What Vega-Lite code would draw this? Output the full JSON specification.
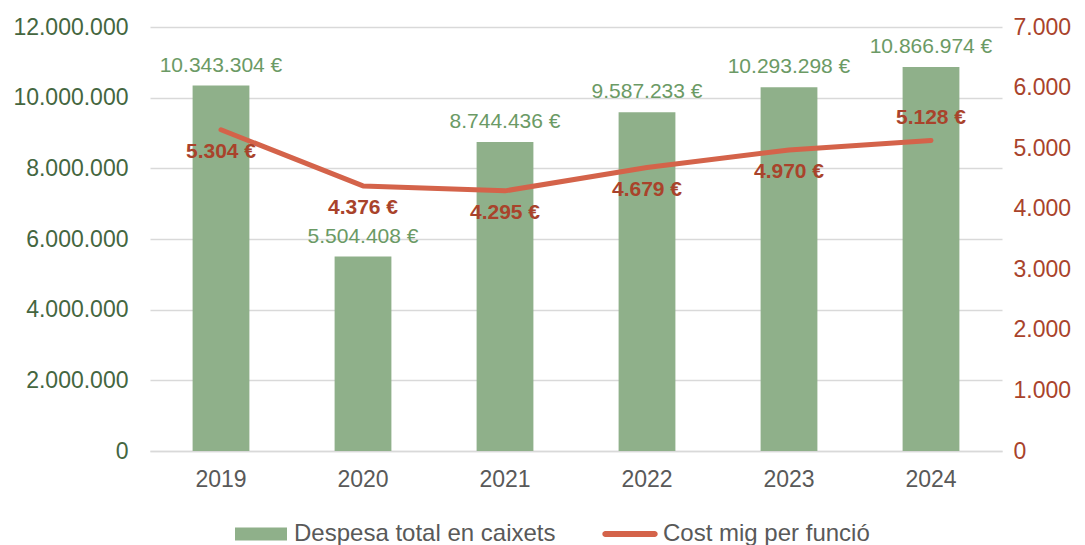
{
  "$schema": "https://vega.github.io/schema/vega-lite/v6.json",
  "width": 852,
  "height": 424,
  "autosize": {"type": "none"},
  "padding": {"left": 150, "top": 27, "right": 83, "bottom": 94},
  "config": {
    "locale": {"number": {"decimal": ",", "thousands": ".", "grouping": [3], "currency": ["", " €"]}},
    "font": "Liberation Sans",
    "view": {"stroke": null}
  },
  "data": {
    "values": [
      {"year": "2019", "despesa": 10343304, "cost": 5304},
      {"year": "2020", "despesa": 5504408, "cost": 4376},
      {"year": "2021", "despesa": 8744436, "cost": 4295},
      {"year": "2022", "despesa": 9587233, "cost": 4679},
      {"year": "2023", "despesa": 10293298, "cost": 4970},
      {"year": "2024", "despesa": 10866974, "cost": 5128}
    ]
  },
  "encoding": {
    "x": {
      "field": "year",
      "type": "nominal",
      "scale": {"paddingInner": 0.6, "paddingOuter": 0.3},
      "axis": {
        "title": null,
        "labelAngle": 0,
        "labelFontSize": 23,
        "labelColor": "#595959",
        "ticks": false,
        "domainColor": "#D9D9D9",
        "domainWidth": 1.5,
        "labelPadding": 17
      }
    }
  },
  "layer": [
    {
      "layer": [
        {
          "mark": {"type": "bar", "color": "#8FB08A"},
          "encoding": {
            "y": {
              "field": "despesa",
              "type": "quantitative",
              "scale": {"domain": [0, 12000000]},
              "axis": {
                "orient": "left",
                "title": null,
                "values": [0, 2000000, 4000000, 6000000, 8000000, 10000000, 12000000],
                "format": ",d",
                "labelFontSize": 23,
                "labelColor": "#44663F",
                "ticks": false,
                "domain": false,
                "grid": true,
                "gridColor": "#D9D9D9",
                "gridWidth": 1.5,
                "labelPadding": 22
              }
            },
            "color": {
              "datum": "Despesa total en caixets",
              "type": "nominal",
              "scale": {"domain": ["Despesa total en caixets", "Cost mig per funció"], "range": ["#8FB08A", "#D4634A"]},
              "legend": {
                "orient": "none",
                "legendX": 85,
                "legendY": 481,
                "direction": "horizontal",
                "title": null,
                "labelFontSize": 24,
                "labelLimit": 400,
                "labelColor": "#595959",
                "labelOffset": 7,
                "symbolSize": 2704,
                "columnPadding": 46,
                "encode": {
                  "symbols": {
                    "update": {
                      "shape": {"signal": "datum.value === 'Cost mig per funció' ? 'M-0.95,-0.115L0.95,-0.115A0.115,0.115,0,0,1,0.95,0.115L-0.95,0.115A0.115,0.115,0,0,1,-0.95,-0.115Z' : 'M-1,-0.25L1,-0.25L1,0.25L-1,0.25Z'"},
                      "fill": {"signal": "datum.value === 'Cost mig per funció' ? '#D4634A' : '#8FB08A'"},
                      "strokeWidth": {"value": 0},
                      "opacity": {"value": 1}
                    }
                  }
                }
              }
            }
          }
        },
        {
          "mark": {"type": "text", "fontSize": 21, "color": "#6B9A65", "baseline": "middle", "dy": -20},
          "encoding": {
            "y": {"field": "despesa", "type": "quantitative"},
            "text": {"field": "despesa", "type": "quantitative", "format": "$,d"}
          }
        }
      ]
    },
    {
      "layer": [
        {
          "mark": {"type": "line", "strokeWidth": 5, "strokeCap": "round", "strokeJoin": "round"},
          "encoding": {
            "y": {
              "field": "cost",
              "type": "quantitative",
              "scale": {"domain": [0, 7000]},
              "axis": {
                "orient": "right",
                "title": null,
                "values": [0, 1000, 2000, 3000, 4000, 5000, 6000, 7000],
                "format": ",d",
                "labelFontSize": 23,
                "labelColor": "#A9432B",
                "ticks": false,
                "domain": false,
                "grid": false,
                "labelPadding": 11
              }
            },
            "color": {"datum": "Cost mig per funció", "type": "nominal"}
          }
        },
        {
          "transform": [{"filter": "datum.year !== '2024'"}],
          "mark": {"type": "text", "fontSize": 21, "fontWeight": "bold", "color": "#A9432B", "baseline": "middle", "dy": 22},
          "encoding": {
            "y": {"field": "cost", "type": "quantitative"},
            "text": {"field": "cost", "type": "quantitative", "format": "$,d"}
          }
        },
        {
          "transform": [{"filter": "datum.year === '2024'"}],
          "mark": {"type": "text", "fontSize": 21, "fontWeight": "bold", "color": "#A9432B", "baseline": "middle", "dy": -22},
          "encoding": {
            "y": {"field": "cost", "type": "quantitative"},
            "text": {"field": "cost", "type": "quantitative", "format": "$,d"}
          }
        }
      ]
    }
  ],
  "resolve": {"scale": {"y": "independent"}}
}
